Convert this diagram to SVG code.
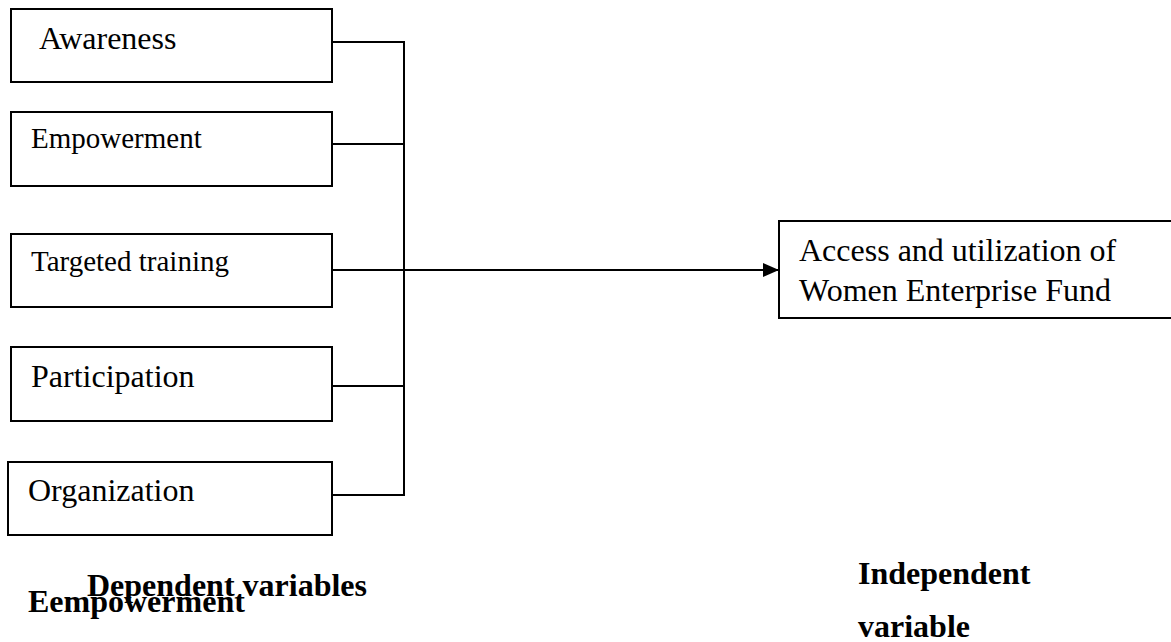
<svg xmlns="http://www.w3.org/2000/svg" width="1171" height="642" viewBox="0 0 1171 642">
<style>
.box{fill:#fff;stroke:#000;stroke-width:2}
.t{font-family:"Liberation Serif","Times New Roman",serif;font-size:32px;fill:#000}
.s{font-size:29px}
.b{font-weight:bold}
.ln{fill:none;stroke:#000;stroke-width:2}
</style>
<defs>
<marker id="ah" markerUnits="userSpaceOnUse" markerWidth="16" markerHeight="14" refX="16" refY="7" orient="auto">
<path d="M0,0 L16,7 L0,14 Z" fill="#000"/>
</marker>
</defs>
<rect width="1171" height="642" fill="#fff"/>
<g id="connectors">
<polyline class="ln" points="332,42 404,42 404,495 332,495"/>
<line class="ln" x1="332" y1="144" x2="404" y2="144"/>
<line class="ln" x1="332" y1="386" x2="404" y2="386"/>
<line class="ln" x1="332" y1="270" x2="779" y2="270" marker-end="url(#ah)"/>
</g>
<g id="awareness">
<rect class="box" x="11" y="9" width="321" height="73"/>
<text class="t" x="39" y="49">Awareness</text>
</g>
<g id="empowerment">
<rect class="box" x="11" y="112" width="321" height="74"/>
<text class="t s" x="31" y="148">Empowerment</text>
</g>
<g id="targeted-training">
<rect class="box" x="11" y="234" width="321" height="73"/>
<text class="t s" x="31" y="271">Targeted training</text>
</g>
<g id="participation">
<rect class="box" x="11" y="347" width="321" height="74"/>
<text class="t" x="31" y="387">Participation</text>
</g>
<g id="organization">
<rect class="box" x="8" y="462" width="324" height="73"/>
<text class="t" x="28" y="501">Organization</text>
</g>
<g id="outcome">
<rect class="box" x="779" y="221" width="400" height="97"/>
<text class="t" x="799" y="261">Access and utilization of</text>
<text class="t" x="799" y="301">Women Enterprise Fund</text>
</g>
<g id="labels">
<text class="t b" x="87" y="596">Dependent variables</text>
<text class="t b" x="28" y="612">Eempowerment</text>
<text class="t b" x="858" y="584">Independent</text>
<text class="t b" x="858" y="637">variable</text>
</g>
</svg>
